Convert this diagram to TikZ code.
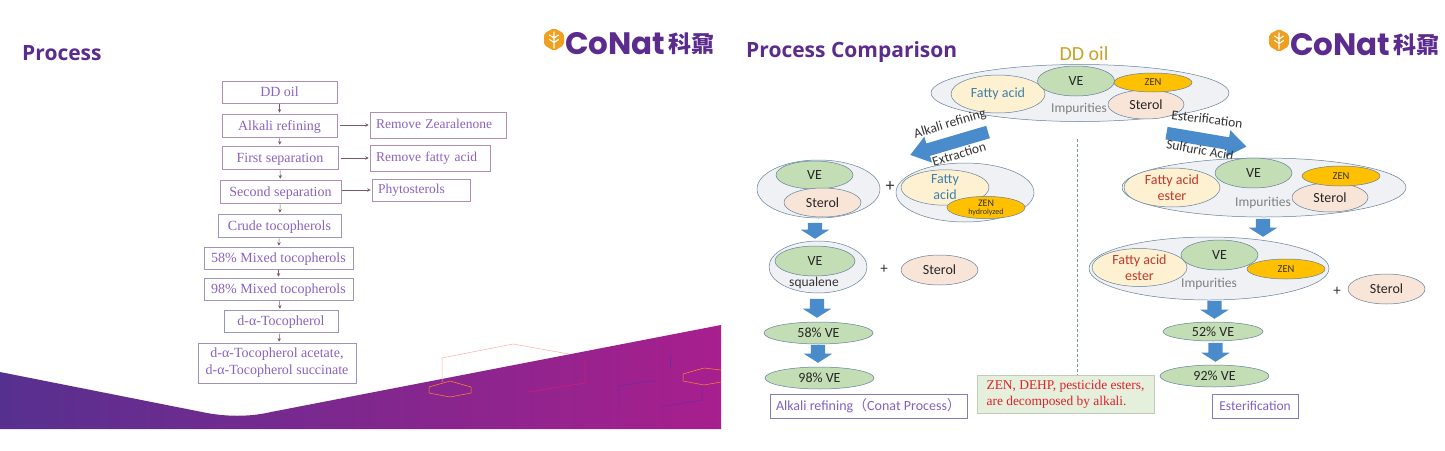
\documentclass[tikz,border=0pt]{standalone}
\usepackage{fontspec}
\setmainfont{Liberation Serif}
\setsansfont{Carlito}
\newfontfamily\headfont{Open Sans}
\newfontfamily\logofont{Poppins}
\newfontfamily\cjk{Noto Sans CJK SC}
\usetikzlibrary{shapes.geometric,shapes.arrows,arrows.meta}
\definecolor{headpurple}{HTML}{5B2C8E}
\definecolor{flowtext}{HTML}{8A62C2}
\definecolor{flowedgeA}{HTML}{B08FAE}
\definecolor{flowedgeB}{HTML}{9C94BD}
\definecolor{flowarrow}{HTML}{7B5A68}
\definecolor{bannerL}{HTML}{56308F}
\definecolor{bannerR}{HTML}{A81F8E}
\definecolor{blockblue}{HTML}{4A8CCB}
\definecolor{ringedge}{HTML}{64809A}
\definecolor{ringfill}{HTML}{EFF1F4}
\definecolor{vegreen}{HTML}{C3DDB4}
\definecolor{fattyfill}{HTML}{FDF1D2}
\definecolor{sterolfill}{HTML}{F9E4D8}
\definecolor{zengold}{HTML}{FFC000}
\definecolor{ddgold}{HTML}{C9A227}
\definecolor{fattyblue}{HTML}{3F7FA8}
\definecolor{esterred}{HTML}{C0392B}
\definecolor{notegreen}{HTML}{E4EFDC}
\definecolor{notered}{HTML}{E0202A}
\definecolor{capedge}{HTML}{7F7FB5}
\definecolor{captext}{HTML}{8262C0}
\definecolor{logogold}{HTML}{F0A020}
\definecolor{dashgray}{HTML}{7F959C}
\definecolor{hexblue}{HTML}{6A2C9E}
\tikzset{
  x=1pt,y=-1pt,
  flowbox/.style={draw=flowedgeA,line width=.7pt,text=flowtext,inner sep=0pt,align=center,text depth=0pt,
    font=\fontsize{14}{17}\selectfont\rmfamily},
  flowlow/.style={flowbox,draw=flowedgeB},
  sidebox/.style 2 args={draw=flowedgeA,line width=.7pt,text=flowtext,inner ysep=0pt,inner xsep=6pt,align=left,
    text width=#1pt,text depth=2pt,minimum height=#2pt,font=\fontsize{13.5}{16}\selectfont\rmfamily},
  flowarr/.style={draw=flowarrow,line width=.5pt,-{Stealth[length=3.5pt,width=3.5pt]},shorten <=1pt,shorten >=1pt},
  oval/.style 2 args={ellipse,draw=ringedge,line width=.5pt,inner sep=0pt,align=center,
    minimum width=#1pt,minimum height=#2pt,font=\fontsize{14}{16}\selectfont\sffamily},
  ring/.style={fill=ringfill},
  ve/.style={fill=vegreen,text=black!85},
  fatty/.style={fill=fattyfill,text=fattyblue},
  ester/.style={fill=fattyfill,text=esterred},
  sterol/.style={fill=sterolfill,text=black!85},
  zen/.style={fill=zengold,text=black!80,font=\fontsize{10.5}{11}\selectfont\sffamily},
  lab/.style={inner sep=0pt,font=\fontsize{13.5}{15}\selectfont\sffamily,text=black!80},
  gray lab/.style={lab,text=black!50},
  plus/.style={inner sep=0pt,font=\fontsize{18}{20}\selectfont\sffamily,text=black!80},
  down/.style={single arrow,draw=none,fill=blockblue,inner sep=0pt,rotate=-90,anchor=tip,
    minimum width=28pt,single arrow head extend=7pt,single arrow head indent=0pt,single arrow tip angle=115},
  slant/.style={single arrow,draw=none,fill=blockblue,inner sep=0pt,anchor=tip,
    minimum height=81pt,minimum width=27pt,single arrow head extend=7pt,single arrow head indent=0pt,single arrow tip angle=72},
  caption/.style={draw=capedge,line width=.6pt,text=captext,inner sep=0pt,
    font=\fontsize{13.5}{16}\selectfont\sffamily},
  heading/.style={inner sep=0pt,anchor=west,text=headpurple,font=\fontsize{21}{24}\selectfont\headfont\bfseries},
  logotext/.style={inner sep=0pt,anchor=west,text=headpurple,font=\fontsize{31}{34}\selectfont\logofont\bfseries},
  logocjk/.style={inner sep=0pt,anchor=west,text=headpurple,font=\fontsize{23}{25}\selectfont\cjk\bfseries},
  hexline/.style={line width=.5pt,line join=round},
}
\newcommand{\shaftfill}[1]{\rule{0pt}{#1pt}}
% Company mark: gold hexagon with a white sprig, followed by the name
\newcommand{\conatlogo}[2]{%
  \begin{scope}[shift={(#1,#2)}]
    \fill[logogold,rounded corners=2pt] (10,0) -- (20,5.5) -- (20,17) -- (10,23) -- (0,17) -- (0,5.5) -- cycle;
    \draw[white,line width=1.1pt,line cap=round] (10,4) -- (10,20)
      (10,10) -- (5.5,7) (10,10) -- (14.5,7) (10,14.5) -- (5.5,11.5) (10,14.5) -- (14.5,11.5);
    \node[logotext] at (21,15.5) {CoNat};
    \node[logocjk] at (124,15.5) {科鼐};
  \end{scope}}
\begin{document}
\begin{tikzpicture}
\useasboundingbox[fill=white] (0,0) rectangle (1445,450);

% ---- first slide: banner ----
\path[left color=bannerL,right color=bannerR]
  (0,372) -- (202,412) .. controls (225,417) and (250,417) .. (271,412)
  -- (721,325) -- (721,429) -- (0,429) -- cycle;
\draw[hexline,draw=pink!70!red!70!white] (442,382) -- (442,358) -- (513,344) -- (569,354);
\draw[hexline,draw=magenta!60!purple] (585,358) -- (585,383) -- (528,392);
\draw[hexline,draw=orange!80!pink] (429,387) -- (450,381) -- (471,387) -- (471,393) -- (450,397) -- (429,393) -- cycle;
\draw[hexline,draw=orange!80!pink] (721,370) -- (704,368) -- (683,374) -- (683,381) -- (704,385) -- (721,382);
\draw[hexline,draw=hexblue] (619,407) -- (619,386) -- (655,380) (702,385) -- (702,400) -- (660,407);
\draw[hexline,draw=hexblue] (670,355) -- (670,368);

\node[heading] (title1) at (22,53.5) {Process};
\conatlogo{544}{28}

% ---- first slide: flow chart ----
\node[flowbox,minimum width=115pt,minimum height=22pt] (dd) at (279.5,92) {DD oil};
\node[flowbox,minimum width=115pt,minimum height=23pt] (alk) at (279.5,125.5) {Alkali refining};
\node[flowbox,minimum width=116pt,minimum height=23pt] (first) at (280,157.5) {First separation};
\node[flowbox,minimum width=121pt,minimum height=23pt] (second) at (280.5,191.5) {Second separation};
\node[flowlow,minimum width=123pt,minimum height=23pt] (crude) at (279.5,225.5) {Crude tocopherols};
\node[flowlow,minimum width=149pt,minimum height=22pt] (m58) at (278.5,258) {58\% Mixed tocopherols};
\node[flowlow,minimum width=149pt,minimum height=22pt] (m98) at (278.5,289) {98\% Mixed tocopherols};
\node[flowlow,minimum width=114pt,minimum height=22pt] (alpha) at (281,321) {d-α-Tocopherol};
\node[flowlow,minimum width=158pt,minimum height=40pt,text depth=3pt] (acet) at (277,363) {d-α-Tocopherol acetate,\\d-α-Tocopherol succinate};
\node[sidebox={124}{26}] (rz) at (438,125) {Remove Zearalenone};
\node[sidebox={108}{26}] (rf) at (430,158) {Remove fatty acid};
\node[sidebox={86}{22}] (ph) at (421,190) {Phytosterols};

\draw[flowarr] (dd) -- (alk);
\draw[flowarr] (alk) -- (first);
\draw[flowarr] (first) -- (second);
\draw[flowarr] (second) -- (crude);
\draw[flowarr] (crude) -- (m58);
\draw[flowarr] (m58) -- (m98);
\draw[flowarr] (m98) -- (alpha);
\draw[flowarr] (alpha) -- (acet);
\draw[flowarr,shorten <=3pt] (alk.east |- rz.west) -- (rz.west);
\draw[flowarr,shorten <=3pt] (first.east |- rf.west) -- (rf.west);
\draw[flowarr] (second.east |- ph.west) -- (ph.west);

% ---- second slide: heading ----
\node[heading] (title2) at (746,52) {Process Comparison};
\conatlogo{1269}{29}
\node[inner sep=0pt,text=ddgold,font=\fontsize{20}{22}\selectfont\sffamily] (ddlab) at (1084,54) {DD oil};

% ---- DD oil composition ----
\node[oval={298}{57},ring] (ddring) at (1080,93) {};
\node[oval={94}{38},fatty] (ddfa) at (998,94) {Fatty acid};
\node[gray lab] (ddimp) at (1079,109) {Impurities};
\node[oval={76}{29},sterol] (ddst) at (1146,104.5) {Sterol};
\node[oval={77}{30},ve] (ddve) at (1076,81) {VE};
\node[oval={78}{19},zen] (ddzen) at (1153,82.5) {ZEN};

% ---- process branches ----
\node[slant,rotate=196.4] (toleft) at (910,155) {\shaftfill{12.5}};
\node[slant,rotate=-9.6] (toright) at (1246.7,146.7) {\shaftfill{12}};
\node[lab,rotate=17] (l1) at (950,124) {Alkali refining};
\node[lab,rotate=17] (l2) at (959,154) {Extraction};
\node[lab,rotate=-7] (l3) at (1207,119) {Esterification};
\node[lab,rotate=-10] (l4) at (1200,150) {Sulfuric Acid};
\draw[densely dashed,draw=dashgray,line width=.6pt] (1077,139) -- (1077,375);

% ---- alkali branch ----
\node[oval={123}{58},ring] (aring) at (818.5,189) {};
\node[oval={77}{28},ve] (ave) at (814.5,175) {VE};
\node[oval={77}{29},sterol] (ast) at (822.5,202.5) {Sterol};
\node[plus] (ap) at (890,187) {+};
\node[oval={138}{59},ring] (bring) at (965,192.5) {};
\node[oval={88}{35},fatty] (bfa) at (945,187.5) {Fatty\\acid};
\node[oval={78}{20},zen,font=\fontsize{10}{9}\selectfont\sffamily] (bzen) at (986,207.5) {ZEN\\[-1pt]{\fontsize{8}{9}\selectfont hydrolyzed}};
\node[down,minimum height=16pt] (d1) at (815,239) {\shaftfill{14}};
\node[oval={98}{52},ring] (cring) at (818,267) {};
\node[oval={80}{30},ve] (cve) at (815,261) {VE};
\node[lab] (csq) at (814,283) {squalene};
\node[plus,font=\fontsize{15}{17}\selectfont\sffamily] (cp) at (884,269) {+};
\node[oval={77}{30},sterol] (cst) at (939.5,270) {Sterol};
\node[down,minimum height=19pt] (d2) at (817,318) {\shaftfill{14}};
\node[oval={109}{22},ve] (v58) at (818.5,333) {58\% VE};
\node[down,minimum height=18pt] (d3) at (818,363) {\shaftfill{14}};
\node[oval={109}{22},ve] (v98) at (819.5,378) {98\% VE};
\node[caption,minimum width=197pt,minimum height=24pt,font=\fontsize{14}{16}\selectfont\sffamily] (capa) at (868.5,406) {Alkali refining{\cjk（}Conat Process{\cjk）}};

% ---- note on alkali decomposition ----
\node[fill=notegreen,draw=notegreen!85!black,line width=.3pt,minimum width=177pt,minimum height=38pt,inner sep=0pt,
  text=notered,align=left,font=\fontsize{13.4}{16}\selectfont\rmfamily] (note) at (1065.5,394)
  {ZEN, DEHP, pesticide esters,\\are decomposed by alkali.};

% ---- esterification branch ----
\node[oval={284}{59},ring] (ering) at (1264,187.5) {};
\node[oval={96}{39},ester] (efa) at (1172,187.5) {Fatty acid\\ester};
\node[gray lab] (eimp) at (1263,203) {Impurities};
\node[oval={76}{29},sterol] (est) at (1330,197.5) {Sterol};
\node[oval={77}{30},ve] (eve) at (1253.5,173) {VE};
\node[oval={78}{20},zen] (ezen) at (1341,176) {ZEN};
\node[down,minimum height=18pt] (d4) at (1263,237) {\shaftfill{14}};
\node[oval={240}{63},ring] (fring) at (1209,268.5) {};
\node[oval={95}{38},ester] (ffa) at (1139.5,267.5) {Fatty acid\\ester};
\node[gray lab] (fimp) at (1209,284) {Impurities};
\node[oval={77}{30},ve] (fve) at (1219.5,255) {VE};
\node[oval={78}{20},zen] (fzen) at (1286,269) {ZEN};
\node[plus,font=\fontsize{15}{17}\selectfont\sffamily] (fp) at (1337,291) {+};
\node[oval={77}{30},sterol] (fst) at (1386.5,289) {Sterol};
\node[down,minimum height=18pt] (d5) at (1214.5,319) {\shaftfill{14}};
\node[oval={100}{19},ve] (v52) at (1213,331.5) {52\% VE};
\node[down,minimum height=19pt] (d6) at (1215.5,362) {\shaftfill{14}};
\node[oval={109}{22},ve] (v92) at (1214.5,376) {92\% VE};
\node[caption,minimum width=86pt,minimum height=24pt] (capb) at (1255,406) {Esterification};
\end{tikzpicture}
\end{document}
